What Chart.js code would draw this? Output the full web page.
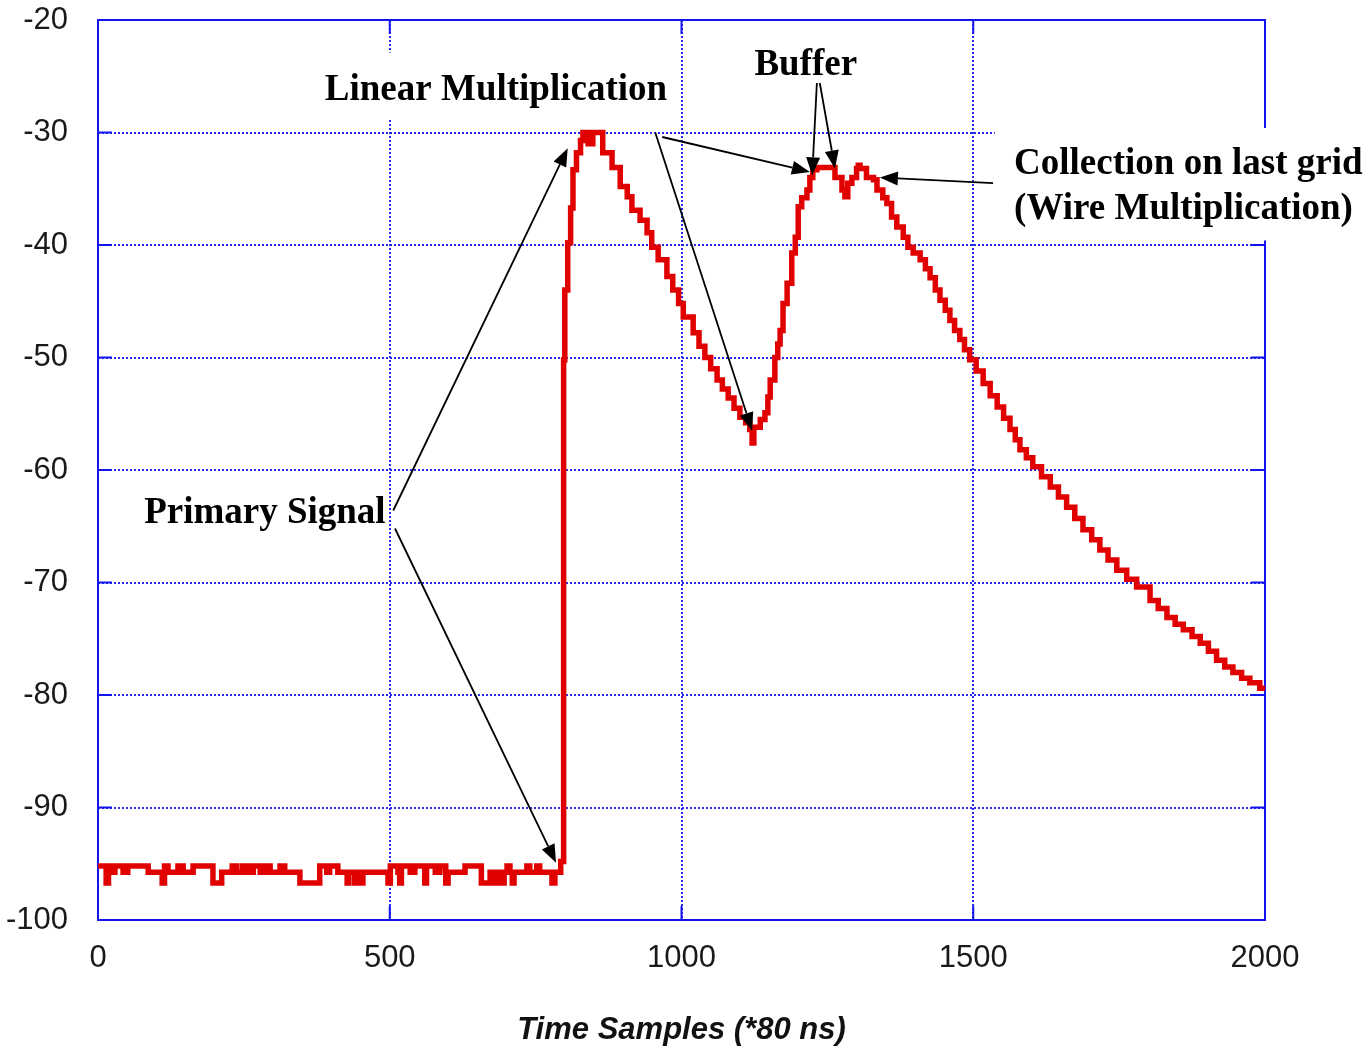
<!DOCTYPE html>
<html>
<head>
<meta charset="utf-8">
<title>Signal</title>
<script src="https://cdn.jsdelivr.net/npm/chart.js"></script>
<style>
  html, body { margin: 0; padding: 0; background: #fff; }
  #wrap { width: 1365px; height: 1050px; position: relative; }
</style>
</head>
<body>
<div id="wrap"><canvas id="signalChart"></canvas></div>
<script>
//////////////////////* Data *////////////////////////////
// Time samples where the (stepped) signal changes level
let sampleX = [
    0, 14, 18, 26, 29, 43, 51, 86, 110, 114, 120, 137, 146, 163, 197, 212,
    230, 238, 248, 257, 266, 278, 286, 295, 312, 320, 346, 380, 392, 397, 411,
    427, 430, 440, 443, 451, 454, 497, 501, 514, 517, 520, 535, 543, 560, 563,
    578, 586, 596, 600, 629, 657, 672, 676, 679, 684, 687, 693, 696, 701, 706,
    710, 713, 735, 740, 752, 757, 778, 783, 793,
    798, 800, 805, 810, 814, 820, 827, 831, 840, 848, 865, 881, 895, 907, 915,
    929, 941, 949, 960, 975, 985, 995, 1003, 1020, 1030, 1040, 1050, 1061,
    1070, 1080, 1090, 1100, 1110, 1117, 1121, 1124, 1135, 1143, 1148, 1152,
    1160, 1165, 1169, 1174, 1181, 1189, 1195, 1200, 1206, 1215, 1220, 1225,
    1232, 1263, 1275, 1280, 1285, 1292, 1300, 1303, 1306, 1317, 1329, 1335,
    1345, 1352, 1360, 1369, 1380, 1388, 1397, 1409, 1418, 1426, 1435, 1443,
    1452, 1460, 1468, 1477, 1485, 1494, 1505, 1517, 1529, 1541, 1552, 1563,
    1572, 1580, 1591, 1602, 1617, 1632, 1646, 1660, 1674, 1688, 1703, 1717,
    1731, 1746, 1763, 1780, 1803, 1817, 1832, 1846, 1860, 1875, 1889, 1903,
    1917, 1931, 1945, 1960, 1974, 1991, 2000
];

let signalY = [
    -95.2, -96.7, -95.2, -95.75, -95.2, -95.75, -95.2, -95.75, -96.7, -95.2, -95.75, -95.2, -95.75, -95.2, -96.7, -95.75,
    -95.2, -95.75, -95.2, -95.75, -95.2, -95.75, -95.2, -95.75, -95.2, -95.75, -96.7, -95.2, -95.75, -95.2, -95.75,
    -96.7, -95.75, -96.7, -95.75, -96.7, -95.75, -96.7, -95.2, -95.75, -96.7, -95.2, -95.75, -95.2, -96.7, -95.2,
    -95.75, -95.2, -96.7, -95.75, -95.2, -96.7, -95.75, -96.7, -95.75, -96.7, -95.75, -96.7, -95.75, -95.2, -95.75,
    -96.7, -95.75, -95.2, -95.75, -95.2, -95.75, -96.7, -95.75, -94.8,
    -50.2, -44.0, -39.8, -36.7, -33.3, -31.8, -30.7, -30.0, -31.0, -30.0, -31.8, -33.1, -34.8, -35.7, -36.9,
    -37.8, -38.9, -40.2, -41.3, -42.8, -44.0, -45.2, -46.4, -47.8, -49.0, -50.0, -51.0, -52.0,
    -52.8, -53.6, -54.5, -55.3, -55.8, -56.4, -57.6, -56.2, -55.5, -54.9, -53.5, -52.0,
    -50.0, -48.8, -47.6, -45.2, -43.4, -40.7, -39.3, -36.6, -35.8, -35.1, -34.0, -33.3,
    -33.1, -34.0, -35.1, -35.7, -34.5, -34.0, -33.2, -32.9, -33.2, -34.0, -34.2, -35.1,
    -35.8, -36.3, -37.5, -38.4, -39.3, -40.2, -40.7, -41.3, -42.1, -42.9, -44.0, -44.9,
    -45.8, -46.7, -47.6, -48.4, -49.3, -50.2, -51.2, -52.3, -53.4, -54.4, -55.4, -56.4,
    -57.3, -58.2, -58.9, -59.7, -60.6, -61.5, -62.4, -63.3, -64.3, -65.3, -66.2, -67.1,
    -68.0, -68.9, -69.7, -70.4, -71.6, -72.3, -73.1, -73.7, -74.2, -74.8, -75.4, -76.1,
    -76.9, -77.5, -78.0, -78.5, -78.9, -79.4, -79.6
];

let xTicks = [0, 500, 1000, 1500, 2000];
let yTicks = [-100, -90, -80, -70, -60, -50, -40, -30, -20];

//////////////////////* Annotations (data units) *////////////////////////////
let noteTexts = [
    ["Linear Multiplication"],
    ["Buffer"],
    ["Collection on last grid", "(Wire Multiplication)"],
    ["Primary Signal"],
];
let noteX = [682, 1213, 1570, 286];
let noteY = [-26.27, -24.07, -32.87, -63.87];
let noteAlign = ["center", "center", "left", "center"];

// white boxes the labels sit on: [xFrom, xTo, yTop, yBottom]
let noteMasks = [
    [377, 984, -22.9, -28.8],
    [1537, 2180, -29.6, -39.6],
];

let arrowFrom = [[967, -30.4], [955, -30.0], [1232, -25.6], [1237, -25.6], [1534, -34.5], [506, -63.6], [509, -65.2]];
let arrowTo = [[1220, -33.5], [1121, -56.5], [1224, -33.8], [1263, -33.2], [1340, -34.0], [805, -31.4], [785, -94.9]];

//////////////////////* Style *////////////////////////////
const gridBlue = "rgba(30, 30, 235, 0.95)";
const frameBlue = "#1414ee";
const signalRed = "#e10000";
const tickFont = "'Liberation Sans', Arial, sans-serif";
const noteFont = "bold 37px 'Liberation Serif', 'Times New Roman', serif";

//////////////////////* Plugin: frame, boxes, arrows, labels *////////////////////////////
const notesPlugin = {
    id: "notes",
    beforeDraw(chart) {
        const ctx = chart.ctx;
        ctx.save();
        ctx.fillStyle = "#fff";
        ctx.fillRect(0, 0, chart.width, chart.height);
        ctx.restore();
    },
    beforeDatasetsDraw(chart) {
        const ctx = chart.ctx;
        const a = chart.chartArea;
        const sx = chart.scales.x;
        const sy = chart.scales.y;
        const tl = 14;
        ctx.save();
        ctx.strokeStyle = frameBlue;
        ctx.lineWidth = 2;
        ctx.strokeRect(a.left, a.top, a.right - a.left, a.bottom - a.top);
        ctx.beginPath();
        xTicks.forEach(function (v) {
            let px = sx.getPixelForValue(v);
            ctx.moveTo(px, a.bottom); ctx.lineTo(px, a.bottom - tl);
            ctx.moveTo(px, a.top); ctx.lineTo(px, a.top + tl);
        });
        yTicks.forEach(function (v) {
            let py = sy.getPixelForValue(v);
            ctx.moveTo(a.left, py); ctx.lineTo(a.left + tl, py);
            ctx.moveTo(a.right, py); ctx.lineTo(a.right - tl, py);
        });
        ctx.stroke();
        ctx.restore();
    },
    afterDraw(chart) {
        const ctx = chart.ctx;
        const sx = chart.scales.x;
        const sy = chart.scales.y;
        ctx.save();

        // white boxes behind labels
        ctx.fillStyle = "#fff";
        noteMasks.forEach(function (m) {
            let x1 = sx.getPixelForValue(m[0]);
            let x2 = sx.getPixelForValue(m[1]);
            let y1 = sy.getPixelForValue(m[2]);
            let y2 = sy.getPixelForValue(m[3]);
            ctx.fillRect(x1, y1, x2 - x1, y2 - y1);
        });

        // arrows
        ctx.strokeStyle = "#000";
        ctx.fillStyle = "#000";
        ctx.lineWidth = 1.8;
        const headLen = 18, headHalf = 7;
        for (let i = 0; i < arrowFrom.length; i++) {
            let x0 = sx.getPixelForValue(arrowFrom[i][0]);
            let y0 = sy.getPixelForValue(arrowFrom[i][1]);
            let x1 = sx.getPixelForValue(arrowTo[i][0]);
            let y1 = sy.getPixelForValue(arrowTo[i][1]);
            let ang = Math.atan2(y1 - y0, x1 - x0);
            let bx = x1 - headLen * Math.cos(ang);
            let by = y1 - headLen * Math.sin(ang);
            ctx.beginPath();
            ctx.moveTo(x0, y0);
            ctx.lineTo(bx, by);
            ctx.stroke();
            ctx.beginPath();
            ctx.moveTo(x1, y1);
            ctx.lineTo(bx + headHalf * Math.sin(ang), by - headHalf * Math.cos(ang));
            ctx.lineTo(bx - headHalf * Math.sin(ang), by + headHalf * Math.cos(ang));
            ctx.closePath();
            ctx.fill();
        }

        // labels
        ctx.font = noteFont;
        ctx.textBaseline = "middle";
        for (let i = 0; i < noteTexts.length; i++) {
            let px = sx.getPixelForValue(noteX[i]);
            let py = sy.getPixelForValue(noteY[i]);
            ctx.textAlign = noteAlign[i];
            noteTexts[i].forEach(function (line, j) {
                ctx.fillText(line, px, py + j * 45);
            });
        }
        ctx.restore();
    },
};

//////////////////////* Chart *////////////////////////////
function signalChart() {
    let ctx = document.getElementById("signalChart");
    let points = sampleX.map(function (x, i) {
        return { x: x, y: signalY[i] };
    });
    let data = {
        datasets: [
            {
                type: "line",
                label: "Signal",
                data: points,
                borderColor: signalRed,
                backgroundColor: signalRed,
                borderWidth: 5.5,
                stepped: "before",
                pointRadius: 0,
                fill: false,
            },
        ],
    };
    let config = {
        data: data,
        options: {
            responsive: true,
            maintainAspectRatio: false,
            animation: false,
            layout: {
                padding: { top: 20, right: 100, left: 0, bottom: 0 },
            },
            plugins: {
                legend: { display: false },
                tooltip: { enabled: false },
            },
            scales: {
                x: {
                    type: "linear",
                    min: 0,
                    max: 2000,
                    afterBuildTicks: function (scale) {
                        scale.ticks = xTicks.map(function (v) { return { value: v }; });
                    },
                    afterFit: function (scale) {
                        scale.height = 130;
                        scale.paddingLeft = 0;
                        scale.paddingRight = 0;
                    },
                    ticks: {
                        color: "#1a1a1a",
                        padding: 20,
                        maxRotation: 0,
                        callback: function (value) {
                            return String(value);
                        },
                        font: { family: tickFont, size: 31 },
                    },
                    grid: {
                        color: gridBlue,
                        lineWidth: 2,
                        drawTicks: false,
                    },
                    border: { display: false, dash: [2, 2] },
                    title: {
                        display: true,
                        text: "Time Samples (*80 ns)",
                        color: "#111",
                        padding: { top: 0, bottom: 1 },
                        font: { family: tickFont, size: 31, weight: "bold", style: "italic" },
                    },
                },
                y: {
                    min: -100,
                    max: -20,
                    afterBuildTicks: function (scale) {
                        scale.ticks = yTicks.map(function (v) { return { value: v }; });
                    },
                    afterFit: function (scale) {
                        scale.width = 98;
                        scale.paddingTop = 0;
                        scale.paddingBottom = 0;
                    },
                    ticks: {
                        color: "#1a1a1a",
                        padding: 30,
                        callback: function (value) {
                            return String(value);
                        },
                        font: { family: tickFont, size: 31 },
                    },
                    grid: {
                        color: gridBlue,
                        lineWidth: 2,
                        drawTicks: false,
                    },
                    border: { display: false, dash: [2, 2] },
                },
            },
        },
        plugins: [notesPlugin],
    };
    let chart = new Chart(ctx, config);
}

signalChart();
</script>
</body>
</html>
